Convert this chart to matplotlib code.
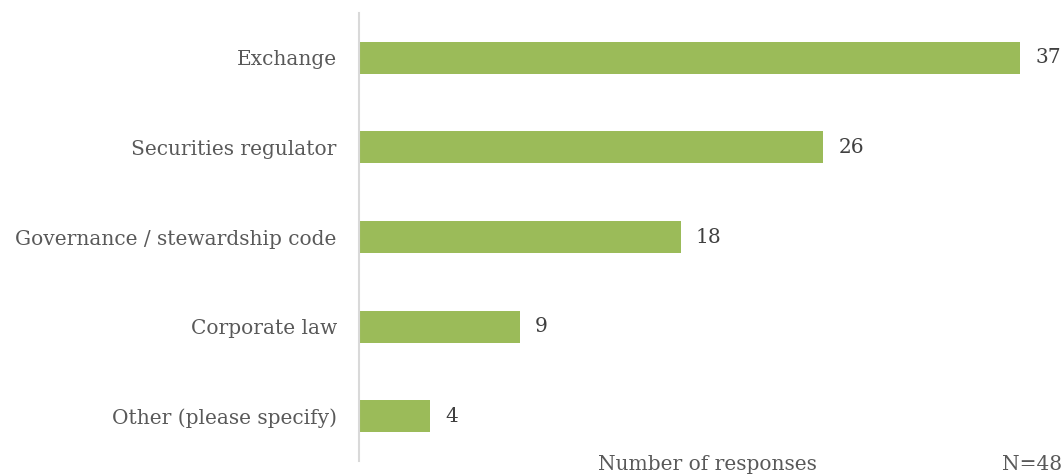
import matplotlib.pyplot as plt

categories = ["Exchange", "Securities regulator", "Governance / stewardship code",
              "Corporate law", "Other (please specify)"]
responses = [37, 26, 18, 9, 4]
x_label = "Number of responses"
note = "N=48"

plt.rcParams['font.family'] = ['DejaVu Serif']
text_color = '#595959'
bar_color = '#9BBB59'

fig = plt.figure(figsize=(10.64, 4.76), dpi=100)
ax = fig.add_axes([359 / 1064, 15 / 476, 705 / 1064, 448 / 476])

pos = list(range(len(categories)))
ax.barh(pos, responses, height=0.357, color=bar_color)
for p, v in zip(pos, responses):
    ax.text(v + 0.85, p, str(v), va='center', ha='left', fontsize=14.5, color='#404040')

ax.set_yticks(pos)
ax.set_yticklabels(categories, fontsize=14.5, color=text_color)
ax.set_ylim(len(categories) - 0.5, -0.5)
ax.set_xlim(0, 705 / ((1020 - 359) / 37))
ax.set_xticks([])
ax.tick_params(axis='y', length=0, pad=16)

for side in ['top', 'right', 'bottom']:
    ax.spines[side].set_visible(False)
ax.spines['left'].set_color('#D9D9D9')
ax.spines['left'].set_linewidth(1.5)

fig.text(707 / 1064, 1 - 464 / 476, x_label, ha='center', va='center', fontsize=14.5, color=text_color)
fig.text(1062 / 1064, 1 - 464 / 476, note, ha='right', va='center', fontsize=14.5, color=text_color)

fig.savefig('out.png', dpi=100)
